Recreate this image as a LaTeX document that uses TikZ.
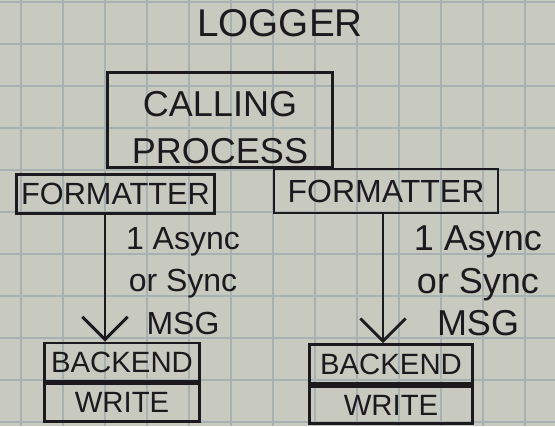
\documentclass[tikz,border=0pt]{standalone}
\usepackage{fontspec}
\setmainfont{Liberation Sans}
\usetikzlibrary{positioning,arrows.meta}
\definecolor{paper}{HTML}{C8CAC0}
\definecolor{gridline}{HTML}{A8B1B1}
\definecolor{ink}{HTML}{1C1A1F}
\begin{document}
\begin{tikzpicture}[x=0.75pt,y=-0.75pt,
  box/.style={draw=ink,line width=2.2pt,rectangle,inner sep=0pt,text=ink,align=center},
  msg/.style={text=ink,align=center,font=\fontsize{24}{32}\selectfont},
  msgarrow/.style={draw=ink,line width=2.2pt,-{Straight Barb[length=17pt,width=34pt]}}]
\useasboundingbox (0,0) rectangle (555,426);
\fill[paper] (0,0) rectangle (555,426);
\foreach \gx in {21,63,...,555} \draw[gridline,line width=1.8pt] (\gx,0) -- (\gx,426);
\foreach \gy in {2,44,...,426} \draw[gridline,line width=1.8pt] (0,\gy) -- (555,\gy);

\node[text=ink,font=\fontsize{29}{29}\selectfont] (title) at (280,23) {LOGGER};

\node[box,minimum width=169pt,minimum height=71pt,font=\fontsize{27}{35}\selectfont] (calling) at (220,120)
  {\raisebox{-8pt}[\height][\depth]{\begin{tabular}{@{}c@{}}CALLING\\PROCESS\end{tabular}}};

\node[box,minimum width=149pt,minimum height=29pt,font=\fontsize{23}{23}\selectfont] (fmtL) at (115.5,194) {FORMATTER};
\node[box,minimum width=168pt,minimum height=33pt,font=\fontsize{24}{24}\selectfont] (fmtR) at (386,191) {FORMATTER};

\node[box,minimum width=116pt,minimum height=28.5pt,font=\fontsize{22}{22}\selectfont] (backL) at (122,362) {BACKEND};
\node[box,minimum width=116pt,minimum height=28pt,font=\fontsize{22}{22}\selectfont,below=0pt of backL] (writeL) {WRITE};
\node[box,minimum width=122pt,minimum height=29pt,font=\fontsize{22}{22}\selectfont] (backR) at (391,364) {BACKEND};
\node[box,minimum width=122pt,minimum height=28pt,font=\fontsize{22}{22}\selectfont,below=0pt of backR] (writeR) {WRITE};

\coordinate (lx) at (105,0);
\coordinate (rx) at (383,0);
\draw[msgarrow] (fmtL.south -| lx) -- (backL.north -| lx);
\draw[msgarrow] (fmtR.south -| rx) -- (backR.north -| rx);

\node[msg] (msgL) at (183,281) {1 Async\\or Sync\\MSG};
\node[msg,font=\fontsize{27}{32}\selectfont] (msgR) at (478,281) {1 Async\\or Sync\\MSG};
\end{tikzpicture}
\end{document}
